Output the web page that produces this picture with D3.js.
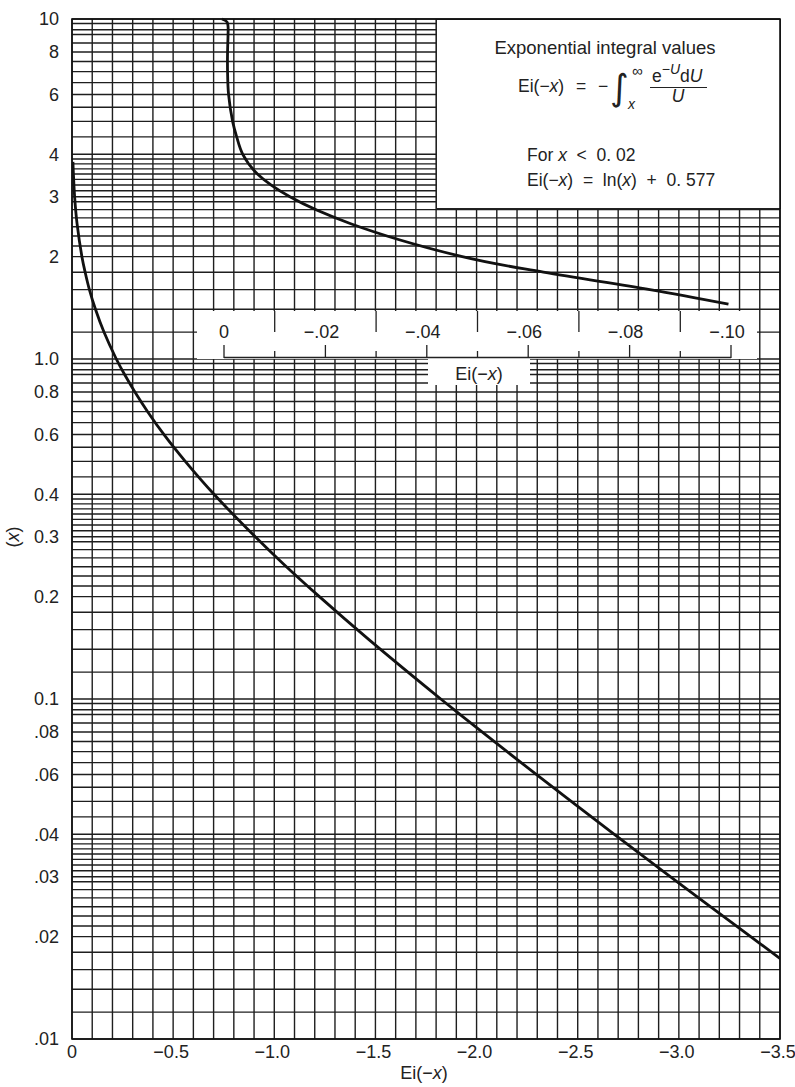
<!DOCTYPE html>
<meta charset="utf-8">
<style>
    body { margin: 0; background: #fff; }
    svg { display: block; font-family: "Liberation Sans", Arial, sans-serif; }
    .grid line { stroke: #1e1e1e; stroke-width: 1.4px; }
    .curve { fill: none; stroke: #111; stroke-width: 2.8px; stroke-linejoin: round; }
    .lbl { font-size: 18px; fill: #222; }
    .box { fill: #fff; stroke: #222; stroke-width: 1px; }
</style>
<svg width="795" height="1087"></svg>
<script src="https://cdn.jsdelivr.net/npm/d3@7"></script>
<script>
    // lower curve: argument x and Ei(-x), main axis
    var mainX = [0.017, 0.02, 0.03, 0.04, 0.05, 0.06, 0.07, 0.08, 0.09, 0.1, 0.15, 0.2, 0.25, 0.3, 0.4, 0.5,
        0.6, 0.7, 0.8, 0.9, 1.0, 1.2, 1.4, 1.6, 1.8, 2.0, 2.5, 3.0, 3.5, 3.8];
    var mainEi = [-3.514, -3.355, -2.959, -2.681, -2.468, -2.295, -2.151, -2.027, -1.919, -1.823, -1.465, -1.223,
        -1.044, -0.906, -0.702, -0.560, -0.454, -0.374, -0.311, -0.260, -0.219, -0.158, -0.116, -0.086, -0.065,
        -0.049, -0.025, -0.013, -0.007, -0.0046];

    // upper curve: read against the inset scale 0 .. -0.10
    var upperX = [10, 9.8, 9.5, 9, 8, 7, 6, 5, 4.5, 4, 3.5, 3, 2.5, 2, 1.8, 1.6, 1.45];
    var upperEi = [0.0004, -0.0006, -0.0008, -0.0008, -0.0007, -0.0007, -0.0009, -0.0017, -0.0025, -0.0037,
        -0.0066, -0.013, -0.025, -0.047, -0.063, -0.084, -0.0995];

    var yTicks = [10, 8, 6, 4, 3, 2, 1, 0.8, 0.6, 0.4, 0.3, 0.2, 0.1, 0.08, 0.06, 0.04, 0.03, 0.02, 0.01];
    var yTickText = ["10", "8", "6", "4", "3", "2", "1.0", "0.8", "0.6", "0.4", "0.3", "0.2", "0.1",
        ".08", ".06", ".04", ".03", ".02", ".01"];
    var xTicks = [0, -0.5, -1.0, -1.5, -2.0, -2.5, -3.0, -3.5];
    var xTickText = ["0", "\u22120.5", "\u22121.0", "\u22121.5", "\u22122.0", "\u22122.5", "\u22123.0", "\u22123.5"];
    var insetTicks = [0, -0.02, -0.04, -0.06, -0.08, -0.10];
    var insetTickText = ["0", "\u2212.02", "\u2212.04", "\u2212.06", "\u2212.08", "\u2212.10"];
    var insetMinor = [-0.01, -0.03, -0.05, -0.07, -0.09];

    // horizontal rulings inside one decade
    var gridMult = [1, 1.2, 1.4, 1.6, 1.8, 2, 2.15, 2.3, 2.45, 2.6, 2.75, 2.9,
        3, 3.125, 3.25, 3.375, 3.5, 3.625, 3.75, 3.875,
        4, 4.5, 5, 5.5, 6, 6.5, 7, 7.5, 8, 8.5, 9, 9.3, 9.7];
    var decades = [0.01, 0.1, 1];

    var svg = d3.select("svg");
    var pL = 72, pR = 780, pT = 19, pB = 1039;

    var x = d3.scaleLinear().domain([0, -3.5]).range([pL, pR]);
    var y = d3.scaleLog().domain([0.01, 10]).range([pB, pT]);
    var xi = d3.scaleLinear().domain([0, -0.10]).range([224, 731]);

    var gridY = [];
    decades.forEach(function (d) {
        gridMult.forEach(function (m) { gridY.push(d * m); });
    });
    gridY.push(10);

    var g = svg.append("g").attr("class", "grid");
    g.selectAll(".h").data(gridY).enter().append("line")
        .attr("x1", pL).attr("x2", pR)
        .attr("y1", function (d) { return y(d); })
        .attr("y2", function (d) { return y(d); });
    g.selectAll(".v").data(d3.range(0, 36)).enter().append("line")
        .attr("y1", pT).attr("y2", pB)
        .attr("x1", function (d) { return x(-d / 10); })
        .attr("x2", function (d) { return x(-d / 10); });

    svg.append("defs").append("clipPath").attr("id", "plot")
        .append("rect").attr("x", pL).attr("y", pT).attr("width", pR - pL).attr("height", pB - pT);

    // lower curve
    var mainPts = mainX.map(function (v, i) { return [x(mainEi[i]), y(v)]; });
    svg.append("path").attr("class", "curve").attr("clip-path", "url(#plot)")
        .attr("d", d3.line().curve(d3.curveCatmullRom.alpha(0.5))(mainPts));

    // upper curve
    var upPts = upperX.map(function (v, i) { return [xi(upperEi[i]), y(v)]; });
    svg.append("path").attr("class", "curve")
        .attr("d", d3.line().curve(d3.curveCatmullRom.alpha(0.5))(upPts));

    // inset scale band
    svg.append("rect").attr("x", 197).attr("y", 311).attr("width", 560).attr("height", 48).attr("fill", "#fff");
    svg.append("rect").attr("x", 428).attr("y", 359).attr("width", 102).attr("height", 26).attr("fill", "#fff");
    var ins = svg.append("g");
    ins.append("line").attr("x1", xi(0)).attr("x2", xi(-0.10)).attr("y1", 357.5).attr("y2", 357.5)
        .attr("stroke", "#222").attr("stroke-width", 1.3);
    ins.selectAll(".maj").data(insetTicks).enter().append("line")
        .attr("x1", function (d) { return xi(d); }).attr("x2", function (d) { return xi(d); })
        .attr("y1", 345).attr("y2", 358).attr("stroke", "#222").attr("stroke-width", 1.3);
    ins.selectAll(".mn").data(insetMinor).enter().append("line")
        .attr("x1", function (d) { return xi(d); }).attr("x2", function (d) { return xi(d); })
        .attr("y1", 351).attr("y2", 358).attr("stroke", "#222").attr("stroke-width", 1.3);
    ins.selectAll(".up").data(insetMinor).enter().append("line")
        .attr("x1", function (d) { return xi(d); }).attr("x2", function (d) { return xi(d); })
        .attr("y1", 311).attr("y2", 332).attr("stroke", "#222").attr("stroke-width", 1.3);
    ins.selectAll(".it").data(insetTicks).enter().append("text")
        .attr("class", "lbl")
        .attr("x", function (d, i) { return xi(d) + (i ? -4 : 0); })
        .attr("y", 338)
        .attr("text-anchor", "middle")
        .text(function (d, i) { return insetTickText[i]; });
    var t1 = ins.append("text").attr("class", "lbl").attr("x", 479).attr("y", 380).attr("text-anchor", "middle");
    t1.append("tspan").text("Ei(\u2212");
    t1.append("tspan").attr("font-style", "italic").text("x");
    t1.append("tspan").text(")");

    // info box
    svg.append("rect").attr("class", "box").attr("x", 436.5).attr("y", 19.5).attr("width", 344).attr("height", 189);
    svg.append("text").attr("x", 605).attr("y", 54).attr("text-anchor", "middle")
        .attr("font-size", 18.5).attr("fill", "#222").text("Exponential integral values");

    var f = svg.append("g").attr("fill", "#222");
    var e1 = f.append("text").attr("x", 518).attr("y", 92).attr("font-size", 17.5);
    e1.append("tspan").text("Ei(\u2212");
    e1.append("tspan").attr("font-style", "italic").text("x");
    e1.append("tspan").text(")");
    f.append("text").attr("x", 581).attr("y", 92).attr("font-size", 17.5).attr("text-anchor", "middle").text("=");
    f.append("text").attr("x", 603).attr("y", 92).attr("font-size", 17.5).attr("text-anchor", "middle").text("\u2212");
    f.append("text").attr("x", 610).attr("y", 100).attr("font-size", 36).attr("font-family", "DejaVu Sans")
        .text("\u222B");
    f.append("text").attr("x", 632).attr("y", 76).attr("font-size", 15).text("\u221E");
    f.append("text").attr("x", 628).attr("y", 109).attr("font-size", 14).attr("font-style", "italic").text("x");
    var num = f.append("text").attr("x", 652).attr("y", 82).attr("font-size", 17.5);
    num.append("tspan").text("e");
    num.append("tspan").attr("dy", -8).attr("font-size", 14).text("\u2212");
    num.append("tspan").attr("font-size", 14).attr("font-style", "italic").text("U");
    num.append("tspan").attr("dy", 8).text("d");
    num.append("tspan").attr("font-style", "italic").text("U");
    f.append("line").attr("x1", 650).attr("x2", 707).attr("y1", 87.5).attr("y2", 87.5)
        .attr("stroke", "#222").attr("stroke-width", 1);
    f.append("text").attr("x", 678).attr("y", 102).attr("font-size", 17.5).attr("font-style", "italic")
        .attr("text-anchor", "middle").text("U");

    var fo = f.append("text").attr("x", 527).attr("y", 161).attr("font-size", 17.5).attr("xml:space", "preserve");
    fo.append("tspan").text("For ");
    fo.append("tspan").attr("font-style", "italic").text("x");
    fo.append("tspan").text("  <  0. 02");
    var ln = f.append("text").attr("x", 527).attr("y", 186).attr("font-size", 17.5).attr("xml:space", "preserve");
    ln.append("tspan").text("Ei(\u2212");
    ln.append("tspan").attr("font-style", "italic").text("x");
    ln.append("tspan").text(")  =  ln(");
    ln.append("tspan").attr("font-style", "italic").text("x");
    ln.append("tspan").text(")  +  0. 577");

    // frame
    svg.append("rect").attr("x", pL).attr("y", pT).attr("width", pR - pL).attr("height", pB - pT)
        .attr("fill", "none").attr("stroke", "#111").attr("stroke-width", 1.6);

    // axis labels
    svg.selectAll(".yl").data(yTicks).enter().append("text")
        .attr("class", "lbl")
        .attr("x", 59).attr("y", function (d) { return y(d); })
        .attr("dy", "0.35em").attr("text-anchor", "end")
        .text(function (d, i) { return yTickText[i]; });
    svg.selectAll(".xl").data(xTicks).enter().append("text")
        .attr("class", "lbl")
        .attr("x", function (d, i) { return x(d) + (i ? -2 : 0); }).attr("y", 1058)
        .attr("text-anchor", "middle")
        .text(function (d, i) { return xTickText[i]; });

    var xt = svg.append("text").attr("class", "lbl").attr("x", 424).attr("y", 1079).attr("text-anchor", "middle");
    xt.append("tspan").text("Ei(\u2212");
    xt.append("tspan").attr("font-style", "italic").text("x");
    xt.append("tspan").text(")");

    var yt = svg.append("text").attr("class", "lbl").attr("transform", "translate(19,537) rotate(-90)")
        .attr("text-anchor", "middle");
    yt.append("tspan").text("(");
    yt.append("tspan").attr("font-style", "italic").text("x");
    yt.append("tspan").text(")");
</script>
